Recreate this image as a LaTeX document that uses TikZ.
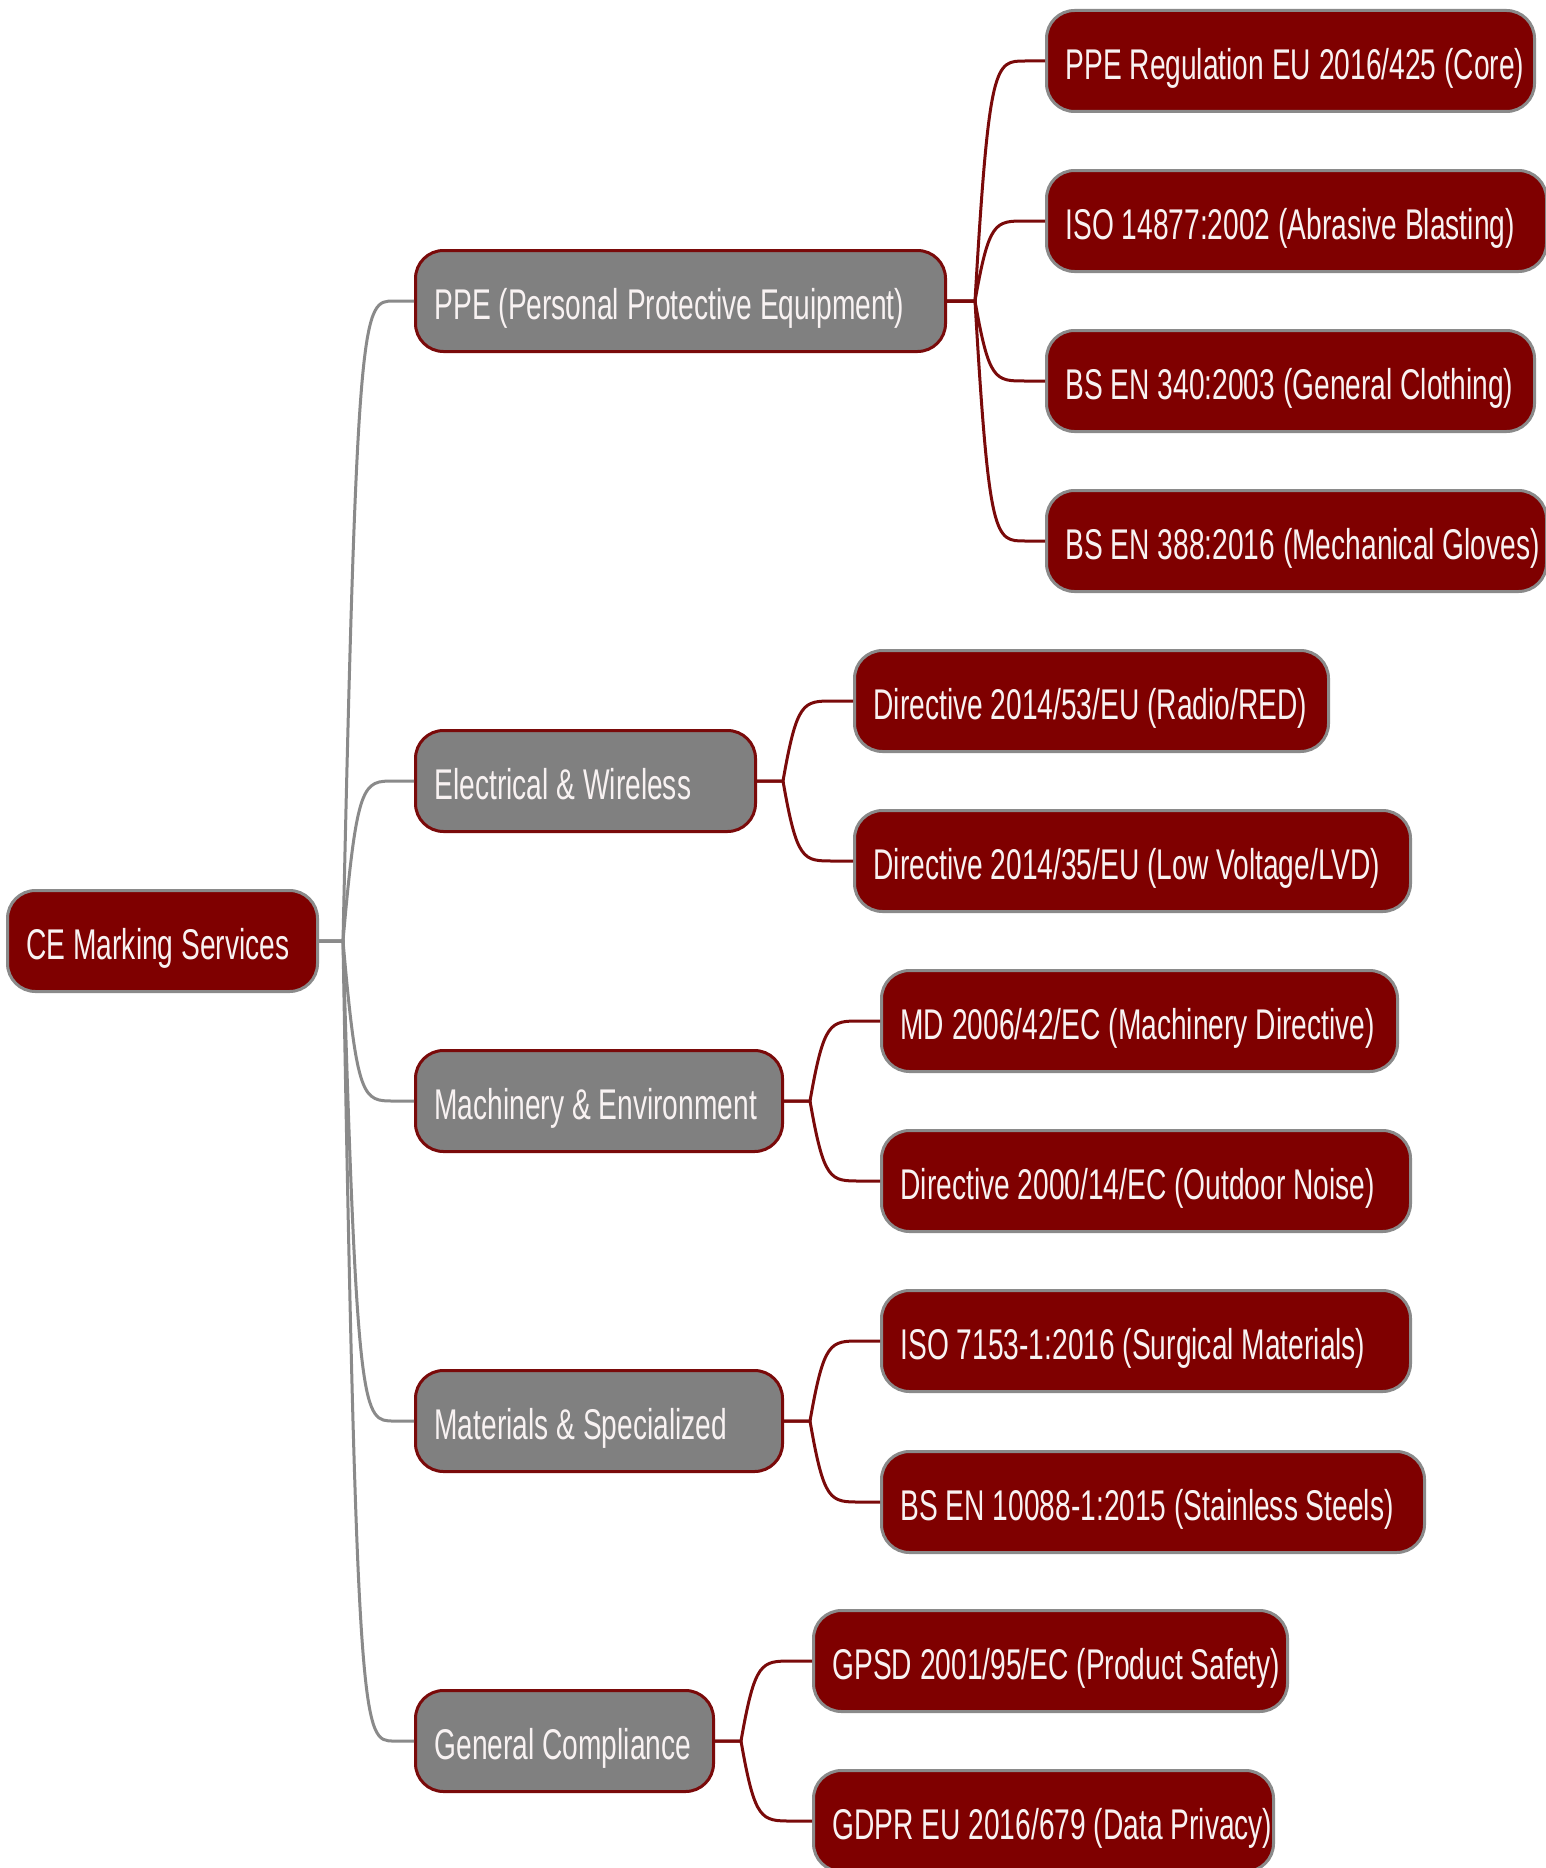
\documentclass[tikz,border=0pt]{standalone}
\usepackage{fontspec}
\setmainfont[FakeStretch=0.655]{Liberation Sans}
\usetikzlibrary{calc}
\definecolor{maroonfill}{HTML}{7F0000}
\definecolor{grayfill}{HTML}{808080}
\definecolor{grayline}{HTML}{8A8A8A}
\definecolor{redline}{HTML}{7A0A0A}
\definecolor{txt}{HTML}{F8F2F2}
\newcommand\mlink[4]{%
  \draw[#1] let \p1=($(#2.east)+(#4,0)$), \p2=(#3.west) in
    (#2.east) -- (\p1) .. controls (\x1+7pt,\y2) and (\x1+10pt,\y2) .. (\x2-10pt,\y2) -- (\p2);
}
\newcommand\lbox[2]{\makebox[#1][l]{#2}}
\begin{document}
\begin{tikzpicture}[x=0.5pt,y=-0.5pt,
  base/.style={rounded corners=14pt, minimum height=50.5pt, inner xsep=9.5pt, inner ysep=0pt,
    text=txt, font=\fontsize{21.5pt}{24pt}\selectfont, line width=1.5pt, anchor=west,
    text height=22pt, text depth=3.6pt},
  rednode/.style={base, fill=maroonfill, draw=grayline},
  graynode/.style={base, fill=grayfill, draw=redline},
  glink/.style={draw=grayline, line width=1.5pt},
  rlink/.style={draw=redline, line width=1.5pt}]
\useasboundingbox (0,0) rectangle (1546,1868);
\clip (0,0) rectangle (1546,1868);
\fill[white] (0,0) rectangle (1546,1868);

% root
\node[rednode] (root) at (6,941) {\lbox{136pt}{CE Marking Services}};

% level 1
\node[graynode] (ppe) at (414,301) {\lbox{246pt}{PPE (Personal Protective Equipment)}};
\node[graynode] (elec) at (414,781) {\lbox{151pt}{Electrical \& Wireless}};
\node[graynode] (mach) at (414,1101) {\lbox{164.5pt}{Machinery \& Environment}};
\node[graynode] (mat) at (414,1421) {\lbox{164.5pt}{Materials \& Specialized}};
\node[graynode] (gen) at (414,1741) {\lbox{130pt}{General Compliance}};

% level 2
\node[rednode] (ppe1) at (1045,61) {\lbox{225pt}{PPE Regulation EU 2016/425 (Core)}};
\node[rednode] (ppe2) at (1045,221) {\lbox{231pt}{ISO 14877:2002 (Abrasive Blasting)}};
\node[rednode] (ppe3) at (1045,381) {\lbox{225pt}{BS EN 340:2003 (General Clothing)}};
\node[rednode] (ppe4) at (1045,541) {\lbox{231pt}{BS EN 388:2016 (Mechanical Gloves)}};
\node[rednode] (el1) at (853,701) {\lbox{218pt}{Directive 2014/53/EU (Radio/RED)}};
\node[rednode] (el2) at (853,861) {\lbox{259pt}{Directive 2014/35/EU (Low Voltage/LVD)}};
\node[rednode] (ma1) at (880,1021) {\lbox{239pt}{MD 2006/42/EC (Machinery Directive)}};
\node[rednode] (ma2) at (880,1181) {\lbox{245.5pt}{Directive 2000/14/EC (Outdoor Noise)}};
\node[rednode] (mt1) at (880,1341) {\lbox{245.5pt}{ISO 7153-1:2016 (Surgical Materials)}};
\node[rednode] (mt2) at (880,1502) {\lbox{252.5pt}{BS EN 10088-1:2015 (Stainless Steels)}};
\node[rednode] (ge1) at (812,1661) {\lbox{218pt}{GPSD 2001/95/EC (Product Safety)}};
\node[rednode] (ge2) at (812,1821) {\lbox{211pt}{GDPR EU 2016/679 (Data Privacy)}};

% links root -> level 1
\mlink{glink}{root}{ppe}{12pt}
\mlink{glink}{root}{elec}{12pt}
\mlink{glink}{root}{mach}{12pt}
\mlink{glink}{root}{mat}{12pt}
\mlink{glink}{root}{gen}{12pt}

% links level 1 -> level 2
\mlink{rlink}{ppe}{ppe1}{14pt}
\mlink{rlink}{ppe}{ppe2}{14pt}
\mlink{rlink}{ppe}{ppe3}{14pt}
\mlink{rlink}{ppe}{ppe4}{14pt}
\mlink{rlink}{elec}{el1}{13pt}
\mlink{rlink}{elec}{el2}{13pt}
\mlink{rlink}{mach}{ma1}{13pt}
\mlink{rlink}{mach}{ma2}{13pt}
\mlink{rlink}{mat}{mt1}{13pt}
\mlink{rlink}{mat}{mt2}{13pt}
\mlink{rlink}{gen}{ge1}{13pt}
\mlink{rlink}{gen}{ge2}{13pt}
\end{tikzpicture}
\end{document}
